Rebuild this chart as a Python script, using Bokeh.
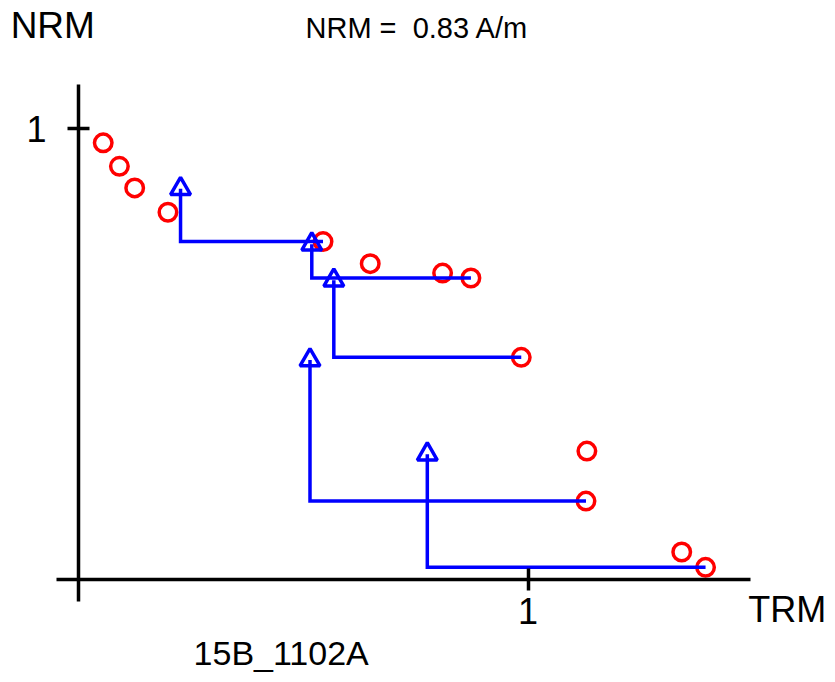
from bokeh.plotting import figure
from bokeh.models import FixedTicker, Label
from bokeh.embed import file_html
from bokeh.resources import INLINE

# NRM/TRM steps (normalised)
trm = [0.055, 0.091, 0.125, 0.199, 0.544, 0.649, 0.810, 0.873, 0.985, 1.131, 1.129, 1.342, 1.395]
nrm = [0.969, 0.917, 0.869, 0.815, 0.750, 0.701, 0.680, 0.669, 0.493, 0.285, 0.174, 0.061, 0.027]
# pTRM checks and the step each one is drawn from
check_trm = [0.227, 0.519, 0.568, 0.515, 0.776]
check_nrm = [0.867, 0.744, 0.664, 0.487, 0.278]
check_ref = [4, 7, 8, 10, 12]
x_ticks = [1]
y_ticks = [1]
sample_name = "15B_1102A"
nrm_text = "NRM =\u00a0 0.83 A/m"
x_title = "TRM"
y_title = "NRM"

FONT = "Liberation Sans"
W, H = 827, 674
XS, YS = 449.5, 450.6   # px per unit
X0, Y0 = 78, 579        # px of origin

p = figure(width=W, height=H, output_backend="svg", toolbar_location=None,
           x_range=(-X0 / XS, (W - X0) / XS), y_range=((Y0 - H) / YS, Y0 / YS),
           min_border=0, min_border_left=0, min_border_right=0,
           min_border_top=0, min_border_bottom=0)
p.outline_line_color = None
p.grid.visible = False
p.background_fill_color = "white"
p.border_fill_color = "white"

for ax, ticks, bounds in ((p.xaxis[0], x_ticks, (-0.049, 1.495)), (p.yaxis[0], y_ticks, (-0.049, 1.098))):
    ax.fixed_location = 0
    ax.bounds = bounds
    ax.ticker = FixedTicker(ticks=ticks)
    ax.minor_tick_line_color = None
    ax.axis_line_width = 3.5
    ax.axis_line_color = "black"
    ax.major_tick_line_width = 3.5
    ax.major_tick_line_color = "black"
    ax.major_tick_in = 11
    ax.major_tick_out = 11
    ax.major_label_text_font = FONT
    ax.major_label_text_font_size = "36px"
    ax.major_label_text_color = "black"
p.xaxis[0].major_label_standoff = 7
p.yaxis[0].major_label_standoff = 21

# pTRM check lines
xs, ys = [], []
for cx, cy, r in zip(check_trm, check_nrm, check_ref):
    xs.append([cx, cx, trm[r]])
    ys.append([cy, nrm[r], nrm[r]])

p.scatter(trm, nrm, marker="circle", size=17.5, fill_color=None,
          line_color="#ff0000", line_width=3.5)
p.multi_line(xs, ys, line_color="#0000ff", line_width=3.5, line_join="miter")
p.scatter(check_trm, check_nrm, marker="triangle", size=20, fill_color=None,
          line_color="#0000ff", line_width=3.5)

def lab(x, y, t, size):
    p.add_layout(Label(x=x, y=y, text=t, text_font=FONT, text_font_size=size,
                       text_color="black", text_baseline="alphabetic", text_align="left"))

lab(-0.151, 1.229, y_title, "37px")
lab(0.505, 1.223, nrm_text, "29px")
lab(1.490, -0.067, x_title, "36px")
lab(0.256, -0.163, sample_name, "34px")

open("out.html", "w").write(file_html(p, INLINE))
